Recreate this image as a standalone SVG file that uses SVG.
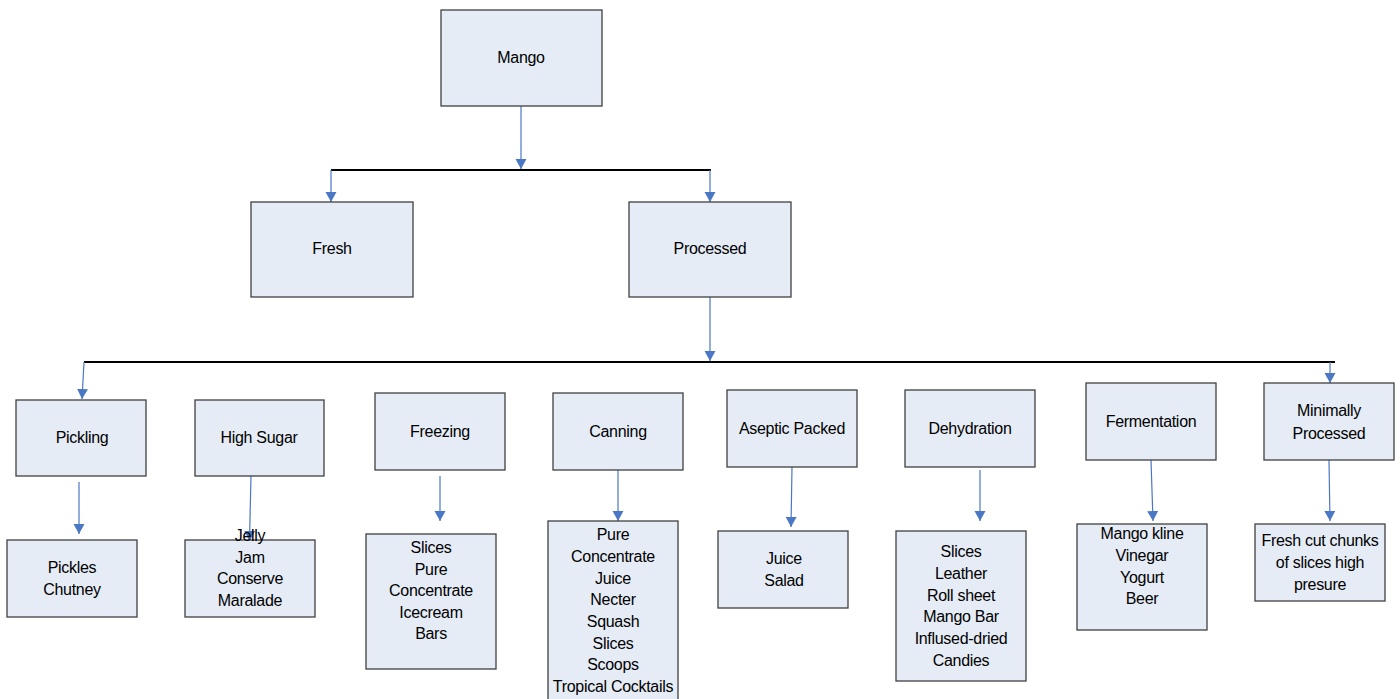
<svg xmlns="http://www.w3.org/2000/svg" width="1400" height="699" viewBox="0 0 1400 699">
  <defs>
    <marker id="arrow" markerUnits="userSpaceOnUse" markerWidth="11" markerHeight="13" refX="10" refY="5.5" orient="auto">
      <path d="M0,0 L10,5.5 L0,11 Z" fill="#4a78c4"/>
    </marker>
    <style>
      .box { fill: #e6ecf6; stroke: #404040; stroke-width: 1.3; }
      .lbl { font-family: "Liberation Sans", Arial, sans-serif; font-size: 16px; fill: #000; text-anchor: middle; letter-spacing: -0.3px; }
      .bar { stroke: #000; stroke-width: 2; fill: none; }
      .link { stroke: #4a78c4; stroke-width: 1.2; fill: none; marker-end: url(#arrow); }
    </style>
  </defs>
  <rect width="1400" height="699" fill="#fff"/>

  <!-- connectors -->
  <g id="connectors">
    <line class="bar" x1="331" y1="170" x2="711" y2="170"/>
    <line class="bar" x1="84" y1="362" x2="1335" y2="362"/>
    <line class="link" x1="521" y1="106" x2="521" y2="169"/>
    <line class="link" x1="331" y1="170" x2="331" y2="202"/>
    <line class="link" x1="710" y1="170" x2="710" y2="202"/>
    <line class="link" x1="710" y1="297" x2="710" y2="361"/>
    <line class="link" x1="84" y1="362" x2="82" y2="399"/>
    <line class="link" x1="1330" y1="362" x2="1330" y2="383"/>
    <line class="link" x1="79" y1="482" x2="79" y2="534"/>
    <line class="link" x1="251" y1="476" x2="249.5" y2="541"/>
    <line class="link" x1="440" y1="476" x2="440" y2="521"/>
    <line class="link" x1="618" y1="470" x2="618" y2="521"/>
    <line class="link" x1="792" y1="467" x2="791" y2="527"/>
    <line class="link" x1="980" y1="470" x2="980" y2="521"/>
    <line class="link" x1="1151" y1="460" x2="1153" y2="521"/>
    <line class="link" x1="1329" y1="460" x2="1330" y2="521"/>
  </g>

  <!-- top levels -->
  <g id="mango"><rect class="box" x="441" y="10" width="161" height="96"/><text class="lbl" x="521" y="63">Mango</text></g>
  <g id="fresh"><rect class="box" x="251" y="202" width="162" height="95"/><text class="lbl" x="332" y="254">Fresh</text></g>
  <g id="processed"><rect class="box" x="629" y="202" width="162" height="95"/><text class="lbl" x="710" y="254">Processed</text></g>

  <!-- processing methods -->
  <g id="pickling"><rect class="box" x="16" y="400" width="130" height="76"/><text class="lbl" x="82" y="443">Pickling</text></g>
  <g id="high-sugar"><rect class="box" x="195" y="400" width="129" height="76"/><text class="lbl" x="259" y="443">High Sugar</text></g>
  <g id="freezing"><rect class="box" x="375" y="393" width="130" height="77"/><text class="lbl" x="440" y="437">Freezing</text></g>
  <g id="canning"><rect class="box" x="553" y="393" width="130" height="77"/><text class="lbl" x="618" y="437">Canning</text></g>
  <g id="aseptic"><rect class="box" x="727" y="390" width="130" height="77"/><text class="lbl" x="792" y="434">Aseptic Packed</text></g>
  <g id="dehydration"><rect class="box" x="905" y="390" width="130" height="77"/><text class="lbl" x="970" y="434">Dehydration</text></g>
  <g id="fermentation"><rect class="box" x="1086" y="383" width="130" height="77"/><text class="lbl" x="1151" y="427">Fermentation</text></g>
  <g id="minimally"><rect class="box" x="1264" y="383" width="130" height="77"/><text class="lbl" x="1329"><tspan x="1329" y="416">Minimally</tspan><tspan x="1329" y="439">Processed</tspan></text></g>

  <!-- products -->
  <g id="pickling-products"><rect class="box" x="7" y="540" width="130" height="77"/>
    <text class="lbl"><tspan x="72" y="573">Pickles</tspan><tspan x="72" y="595">Chutney</tspan></text></g>
  <g id="high-sugar-products"><rect class="box" x="185" y="540" width="130" height="77"/>
    <text class="lbl"><tspan x="250" y="541">Jelly</tspan><tspan x="250" y="563">Jam</tspan><tspan x="250" y="584">Conserve</tspan><tspan x="250" y="606">Maralade</tspan></text></g>
  <g id="freezing-products"><rect class="box" x="366" y="534" width="130" height="135"/>
    <text class="lbl"><tspan x="431" y="553">Slices</tspan><tspan x="431" y="575">Pure</tspan><tspan x="431" y="596">Concentrate</tspan><tspan x="431" y="618">Icecream</tspan><tspan x="431" y="639">Bars</tspan></text></g>
  <g id="canning-products"><rect class="box" x="548" y="521" width="130" height="190"/>
    <text class="lbl"><tspan x="613" y="540">Pure</tspan><tspan x="613" y="562">Concentrate</tspan><tspan x="613" y="584">Juice</tspan><tspan x="613" y="605">Necter</tspan><tspan x="613" y="627">Squash</tspan><tspan x="613" y="649">Slices</tspan><tspan x="613" y="670">Scoops</tspan><tspan x="613" y="692">Tropical Cocktails</tspan></text></g>
  <g id="aseptic-products"><rect class="box" x="718" y="531" width="130" height="77"/>
    <text class="lbl"><tspan x="784" y="564">Juice</tspan><tspan x="784" y="586">Salad</tspan></text></g>
  <g id="dehydration-products"><rect class="box" x="896" y="531" width="130" height="150"/>
    <text class="lbl"><tspan x="961" y="557">Slices</tspan><tspan x="961" y="579">Leather</tspan><tspan x="961" y="601">Roll sheet</tspan><tspan x="961" y="622">Mango Bar</tspan><tspan x="961" y="644">Inflused-dried</tspan><tspan x="961" y="666">Candies</tspan></text></g>
  <g id="fermentation-products"><rect class="box" x="1077" y="524" width="130" height="106"/>
    <text class="lbl"><tspan x="1142" y="539">Mango kline</tspan><tspan x="1142" y="561">Vinegar</tspan><tspan x="1142" y="583">Yogurt</tspan><tspan x="1142" y="604">Beer</tspan></text></g>
  <g id="minimally-products"><rect class="box" x="1255" y="524" width="130" height="77"/>
    <text class="lbl"><tspan x="1320" y="546">Fresh cut chunks</tspan><tspan x="1320" y="568">of slices high</tspan><tspan x="1320" y="590">presure</tspan></text></g>
</svg>
